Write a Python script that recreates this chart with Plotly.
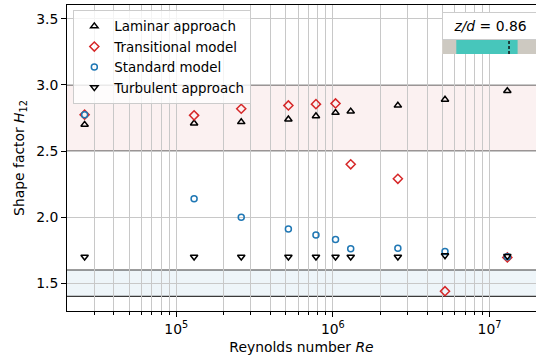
import numpy as np
import plotly.graph_objects as go

# Reynolds numbers of the simulated cases
reynolds = [2.6e4, 1.3e5, 2.6e5, 5.2e5, 7.8e5, 1.04e6, 1.3e6, 2.6e6, 5.2e6, 1.3e7]

# Shape factor H12 for each modelling approach
h12_laminar = [2.70, 2.71, 2.72, 2.74, 2.765, 2.79, 2.80, 2.845, 2.89, 2.955]
h12_transitional = [2.775, 2.77, 2.82, 2.845, 2.855, 2.86, 2.40, 2.29, 1.44, 1.695]
h12_standard = [2.775, 2.14, 2.00, 1.91, 1.865, 1.83, 1.76, 1.765, 1.74, 1.70]
h12_turbulent = [1.70, 1.70, 1.70, 1.70, 1.70, 1.70, 1.70, 1.70, 1.71, 1.705]

# Reference bands: laminar and turbulent H12 ranges
laminar_band = (2.5, 3.0)
turbulent_band = (1.4, 1.6)

# Measurement station along the body
z_over_d = 0.86

y_ticks = [1.5, 2.0, 2.5, 3.0, 3.5]
x_major = [1e5, 1e6, 1e7]
x_major_text = ["10<sup>5</sup>", "10<sup>6</sup>", "10<sup>7</sup>"]
x_minor = [k * 10.0 ** n for n in range(4, 8) for k in range(2, 10)]

FONT = "DejaVu Sans"
FS = 13.9

series = [
    ("Laminar approach", h12_laminar, "triangle-up-open", "black", 6.5),
    ("Transitional model", h12_transitional, "diamond-open", "#d62728", 7),
    ("Standard model", h12_standard, "circle-open", "#1f77b4", 6),
    ("Turbulent approach", h12_turbulent, "triangle-down-open", "black", 6.5),
]

fig = go.Figure()
for name, vals, sym, col, size in series:
    fig.add_trace(go.Scatter(
        x=reynolds, y=vals, mode="markers", name=name,
        marker=dict(symbol=sym, size=size, color=col, line=dict(color=col, width=1.5)),
    ))

# Shaded reference bands with dark boundary lines
for (lo, hi), fill in [(laminar_band, "#fbf1f1"), (turbulent_band, "#eef5f9")]:
    fig.add_shape(type="rect", xref="paper", yref="y", x0=0, x1=1, y0=lo, y1=hi,
                  fillcolor=fill, line_width=0, layer="below")
    for yv in (lo, hi):
        fig.add_shape(type="line", xref="paper", yref="y", x0=0, x1=1, y0=yv, y1=yv,
                      line=dict(color="#3a3a3a", width=1.2), layer="below")

# Small station indicator: body length 0..1 with the station marked
fig.add_trace(go.Scatter(x=[0.5], y=[0.5], xaxis="x2", yaxis="y2", mode="markers",
                         marker=dict(opacity=0), showlegend=False, hoverinfo="skip"))
fig.add_shape(type="rect", xref="x2", yref="y2", x0=-0.3, x1=1.4, y0=0, y1=1,
              fillcolor="#cdc9c1", line_width=0)
fig.add_shape(type="rect", xref="x2", yref="y2", x0=0, x1=1, y0=0, y1=1,
              fillcolor="#47c6bb", line_width=0)
fig.add_shape(type="line", xref="x2", yref="y2", x0=z_over_d, x1=z_over_d, y0=0, y1=1,
              line=dict(color="#111111", width=1.5, dash="3px,2px"))

fig.add_annotation(
    xref="paper", yref="paper", x=0.901, y=0.932, xanchor="center", yanchor="middle",
    text=f"<i>z/d</i> = {z_over_d:.2f}", showarrow=False,
    font=dict(family=FONT, size=FS, color="black"),
    bgcolor="white", bordercolor="#cccccc", borderwidth=1, borderpad=1,
    width=92, height=24,
)

fig.update_layout(
    width=536, height=358,
    margin=dict(l=67, r=0, t=5, b=47),
    paper_bgcolor="white", plot_bgcolor="white",
    font=dict(family=FONT, size=FS, color="black"),
    showlegend=True,
    legend=dict(
        x=0.0135, y=0.984, xanchor="left", yanchor="top",
        bgcolor="rgba(255,255,255,0.8)", bordercolor="#cccccc", borderwidth=1,
        font=dict(family=FONT, size=13.4, color="black"),
        tracegroupgap=0,
    ),
    xaxis=dict(
        type="log", range=[4.3025, 7.297],
        tickvals=x_major, ticktext=x_major_text,
        ticks="outside", ticklen=5, tickwidth=1, tickcolor="black",
        showline=True, linecolor="black", linewidth=1, mirror=True,
        showgrid=True, gridcolor="#c8c8c8", gridwidth=1.2,
        minor=dict(tickvals=x_minor, ticks="outside", ticklen=3, tickcolor="black",
                   showgrid=True, gridcolor="#c8c8c8", gridwidth=1.2),
        title=dict(text="Reynolds number <i>Re</i>", standoff=6,
                   font=dict(family=FONT, size=FS)),
        zeroline=False,
    ),
    yaxis=dict(
        range=[1.29, 3.605], tickvals=y_ticks, ticktext=[f"{v:.1f}" for v in y_ticks],
        ticks="outside", ticklen=5, tickwidth=1, tickcolor="black",
        showline=True, linecolor="black", linewidth=1,
        showgrid=True, gridcolor="#c8c8c8", gridwidth=1.2,
        title=dict(text="Shape factor <i>H</i><sub>12</sub>", standoff=8,
                   font=dict(family=FONT, size=FS)),
        zeroline=False,
    ),
    xaxis2=dict(domain=[0.8, 1.0], range=[-0.23, 1.3], anchor="y2", visible=False,
                fixedrange=True),
    yaxis2=dict(domain=[0.84, 0.888], range=[0, 1], anchor="x2", visible=False,
                fixedrange=True),
)

fig.write_html("out.html")
